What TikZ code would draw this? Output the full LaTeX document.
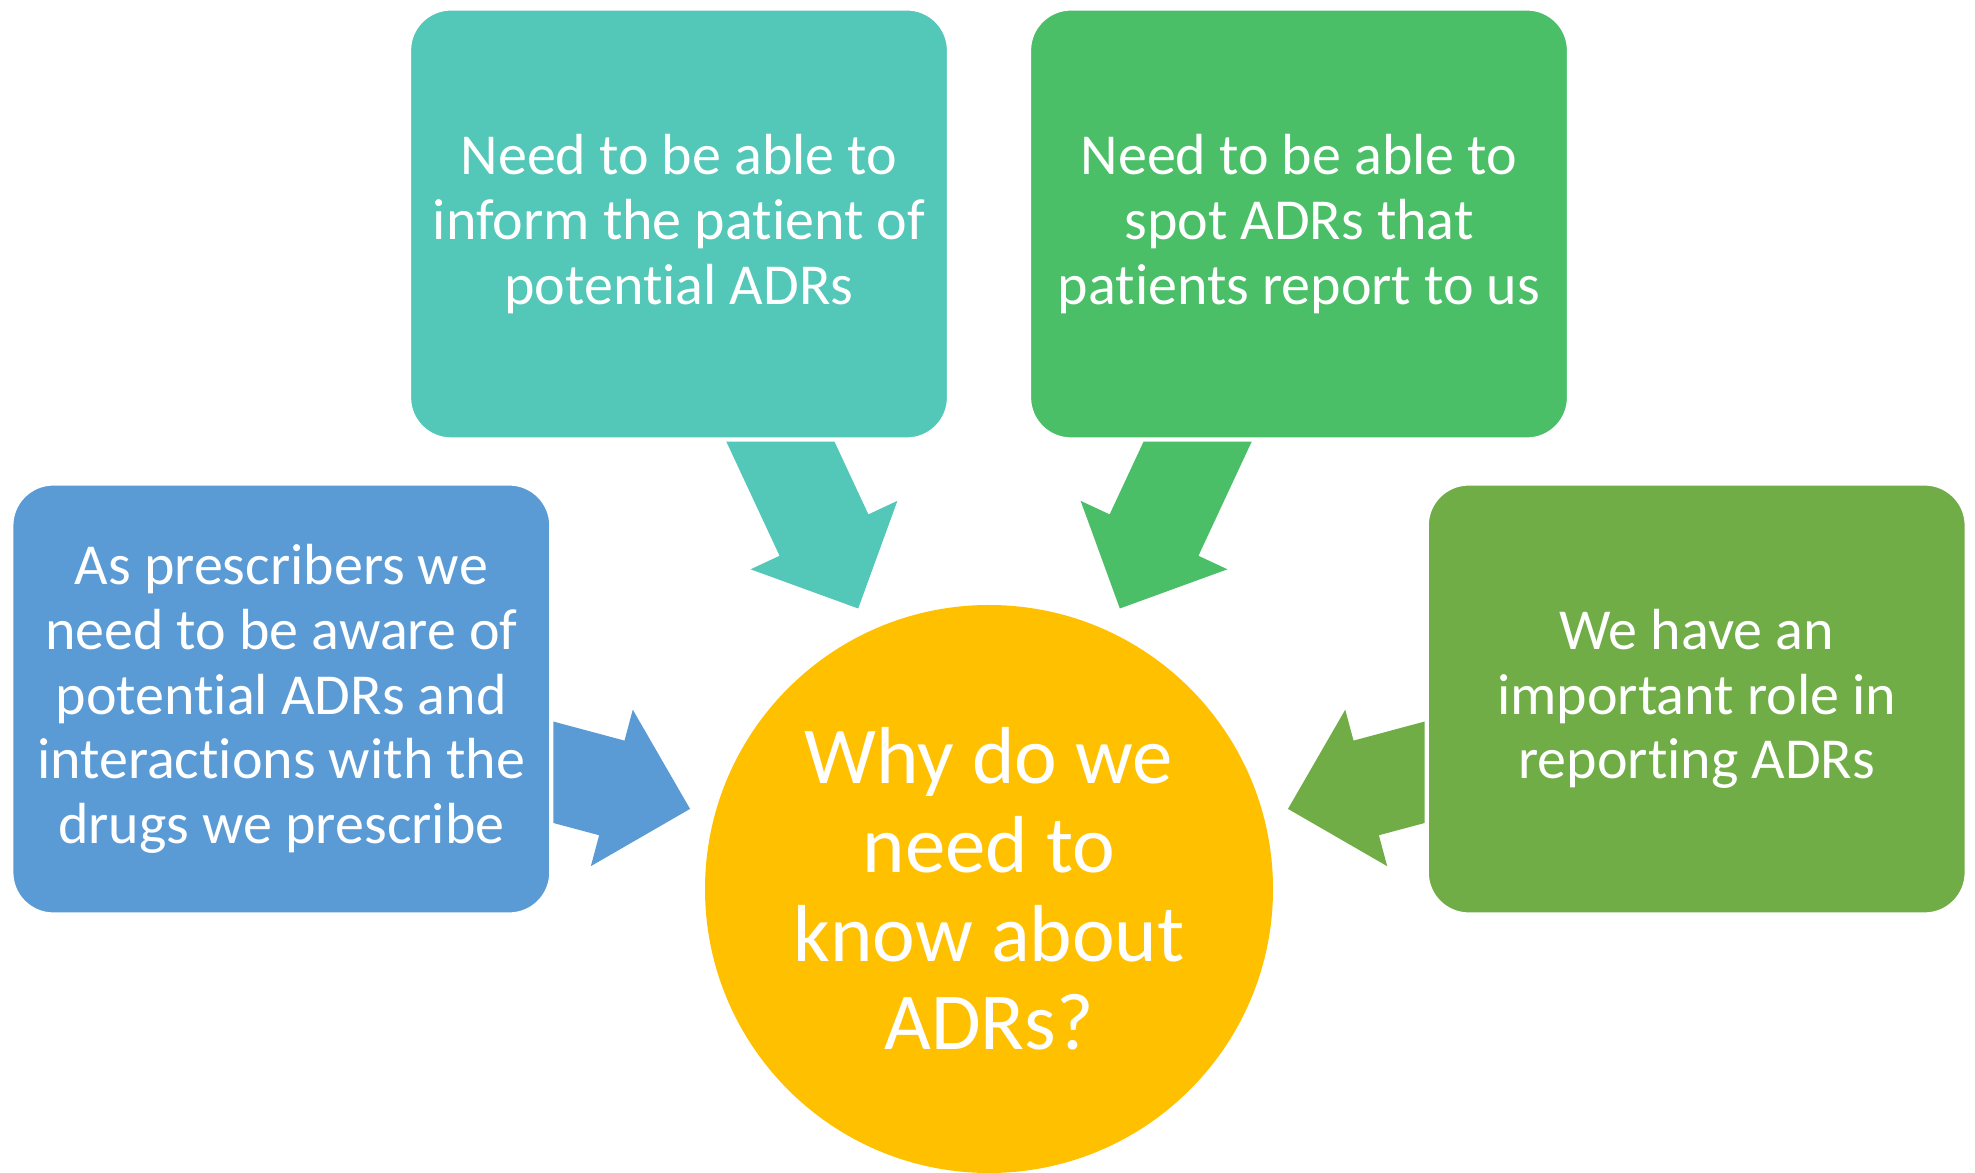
\documentclass[tikz,border=0pt]{standalone}
\usepackage{fontspec}
\setmainfont{Carlito}[Ligatures={NoCommon}]

\definecolor{adrblue}{HTML}{5B9BD5}
\definecolor{adrteal}{HTML}{53C7B8}
\definecolor{adrgreen}{HTML}{4ABF67}
\definecolor{adrolive}{HTML}{70AD47}
\definecolor{adrgold}{HTML}{FFC000}

\begin{document}
\begin{tikzpicture}[
    reason/.style={rectangle, rounded corners=0.42cm, draw=white, line width=1.2pt,
        minimum width=5.40cm, minimum height=4.31cm, text=white, align=center,
        font=\fontsize{16.5}{18.45}\selectfont},
    hub/.style={circle, fill=adrgold, minimum size=5.68cm, inner sep=0pt,
        text=white, align=center, font=\fontsize{23}{25.2}\selectfont}
]
\useasboundingbox (0,0) rectangle (19.75,11.72);

\node[hub] (hub) at (9.89,2.83) {Why do we\\ need to\\ know about\\ ADRs?};

% block arrows pointing at the centre, tails hidden under the boxes
\foreach \ang/\col in {165/adrblue,115/adrteal,65/adrgreen,15/adrolive}
    \fill[\col, shift={(hub.center)}, rotate=\ang]
        (5.5,-0.49) -- (3.905,-0.49) -- (3.905,-0.81) -- (3.095,0)
        -- (3.905,0.81) -- (3.905,0.49) -- (5.5,0.49) -- cycle;

\node[reason, fill=adrblue] (aware) at (2.813,4.73)
    {As prescribers we\\ need to be aware of\\ potential ADRs and\\ interactions with the\\ drugs we prescribe};
\node[reason, fill=adrteal] (inform) at (6.79,9.48)
    {Need to be able to\\ inform the patient of\\ potential ADRs};
\node[reason, fill=adrgreen] (spot) at (12.99,9.48)
    {Need to be able to\\ spot ADRs that\\ patients report to us};
\node[reason, fill=adrolive] (report) at (16.967,4.73)
    {We have an\\ important role in\\ reporting ADRs};
\end{tikzpicture}
\end{document}
